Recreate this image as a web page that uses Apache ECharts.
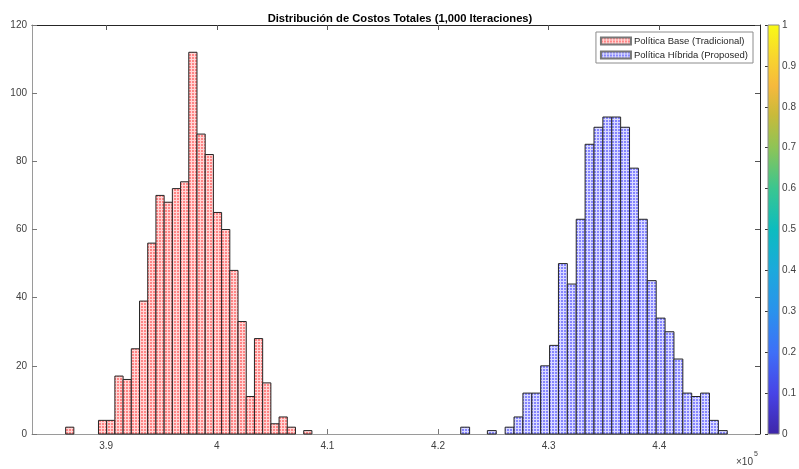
<!DOCTYPE html>
<html><head><meta charset="utf-8">
<script src="https://cdn.jsdelivr.net/npm/echarts@6/dist/echarts.min.js"></script>
<style>html,body{margin:0;padding:0;background:#fff}#c{width:799px;height:469px}</style>
</head><body><div id="c"></div>
<script>
// ---- data ----
const chartTitle = 'Distribución de Costos Totales (1,000 Iteraciones)';
const seriesNames = ['Política Base (Tradicional)', 'Política Híbrida (Proposed)'];
const redBinStart = 386340;
const redBinWidth = 742;
const redCounts = [2,0,0,0,4,4,17,16,25,39,56,70,68,72,74,112,88,82,65,60,48,33,11,28,15,3,5,2,0,1];
const blueBinStart = 422050;
const blueBinWidth = 803;
const blueCounts = [2,0,0,1,0,2,5,12,12,20,26,50,44,63,85,90,93,93,90,78,63,45,34,30,22,12,11,12,4,1];
const xTickValues = [390000, 400000, 410000, 420000, 430000, 440000];
const xRange = [383300, 449100];
const yRange = [0, 120];
const yInterval = 20;
const colorbarRange = [0, 1];
const colorbarInterval = 0.1;
// parula colormap (style)
const parulaStops = [
  [0.00,'#3e26a8'],[0.10,'#4743e6'],[0.20,'#3e6ff8'],[0.30,'#2a92ec'],[0.40,'#1ca9dc'],
  [0.50,'#0cbcbf'],[0.60,'#3ac690'],[0.70,'#8ec456'],[0.78,'#c9ba3a'],[0.85,'#f6b93c'],
  [0.92,'#f8d52e'],[1.00,'#f9fb15']
];

function makePattern(bg, fg){
  const cv = document.createElement('canvas');
  cv.width = 3; cv.height = 3;
  const g = cv.getContext('2d');
  g.fillStyle = bg; g.fillRect(0,0,3,3);
  g.fillStyle = fg; g.fillRect(0,0,2,2);
  return {image: cv, repeat: 'repeat'};
}
const redFill = makePattern('#ffd6d6', '#ff8585');
const blueFill = makePattern('#dadaff', '#8585ff');

function binsOf(start, width, counts){
  return counts.map((c, i) => [start + i*width, start + (i+1)*width, c]).filter(d => d[2] > 0);
}

function renderBar(params, api){
  const x0 = api.value(0), x1 = api.value(1), c = api.value(2);
  const p0 = api.coord([x0, 0]);
  const p1 = api.coord([x1, c]);
  const fill = params.seriesIndex === 0 ? redFill : blueFill;
  return {
    type: 'rect',
    shape: {x: p0[0], y: p1[1], width: p1[0]-p0[0], height: p0[1]-p1[1]},
    style: {fill: fill, stroke: '#262626', lineWidth: 1}
  };
}

function renderColorbar(params, api){
  const pTop = api.coord([0, api.value(1)]);
  const pBot = api.coord([1, api.value(0)]);
  return {
    type: 'rect',
    shape: {x: pTop[0], y: pTop[1], width: pBot[0]-pTop[0], height: pBot[1]-pTop[1]},
    style: {
      fill: new echarts.graphic.LinearGradient(0, 1, 0, 0,
        parulaStops.map(s => ({offset: s[0], color: s[1]}))),
      stroke: '#8a8a8a', lineWidth: 1
    }
  };
}

const FONT = 'Liberation Sans, Arial, Helvetica, sans-serif';
const chart = echarts.init(document.getElementById('c'), null, {renderer: 'canvas'});
chart.setOption({
  animation: false,
  backgroundColor: '#fff',
  title: {
    text: chartTitle, left: 395, top: 8, textAlign: 'center',
    textStyle: {fontFamily: FONT, fontSize: 11.2, fontWeight: 'bold', color: '#000'}
  },
  legend: {
    data: seriesNames, orient: 'vertical', right: 46, top: 32,
    icon: 'rect', itemWidth: 30, itemHeight: 7, itemGap: 4,
    padding: [4, 5, 3, 4],
    backgroundColor: '#fff', borderColor: '#8c8c8c', borderWidth: 1,
    textStyle: {fontFamily: FONT, fontSize: 9.5, color: '#262626', padding: [0,0,0,-2]}
  },
  grid: [
    {left: 32, top: 25, right: 39, bottom: 35, containLabel: false},
    {left: 768, top: 25, width: 16, bottom: 35, containLabel: false}
  ],
  xAxis: [
    {type: 'value', gridIndex: 0, position: 'bottom', min: xRange[0], max: xRange[1],
      axisLine: {onZero: false, lineStyle: {color: '#9a9a9a', width: 1}},
      axisTick: {inside: true, length: 5, customValues: xTickValues, lineStyle: {color: '#777'}},
      axisLabel: {customValues: xTickValues, margin: 7, fontFamily: FONT, fontSize: 10, color: '#404040',
        formatter: v => String(+(v/1e5).toFixed(2))},
      splitLine: {show: false}},
    {type: 'value', gridIndex: 0, position: 'top', min: xRange[0], max: xRange[1],
      axisLine: {onZero: false, lineStyle: {color: '#262626', width: 1}},
      axisTick: {inside: true, length: 5, customValues: xTickValues, lineStyle: {color: '#555'}},
      axisLabel: {show: false}, splitLine: {show: false}},
    {type: 'value', gridIndex: 1, min: 0, max: 1, show: false}
  ],
  yAxis: [
    {type: 'value', gridIndex: 0, position: 'left', min: yRange[0], max: yRange[1], interval: yInterval,
      axisLine: {show: true, onZero: false, lineStyle: {color: '#9a9a9a', width: 1}},
      axisTick: {show: true, inside: true, length: 5, lineStyle: {color: '#777'}},
      axisLabel: {margin: 5, fontFamily: FONT, fontSize: 10, color: '#404040'},
      splitLine: {show: false}},
    {type: 'value', gridIndex: 0, position: 'right', min: yRange[0], max: yRange[1], interval: yInterval,
      axisLine: {show: true, onZero: false, lineStyle: {color: '#262626', width: 1}},
      axisTick: {show: true, inside: true, length: 5, lineStyle: {color: '#555'}},
      axisLabel: {show: false}, splitLine: {show: false}},
    {type: 'value', gridIndex: 1, position: 'right', min: colorbarRange[0], max: colorbarRange[1], interval: colorbarInterval,
      axisLine: {show: false},
      axisTick: {show: true, inside: true, length: 3, lineStyle: {color: '#333'}},
      axisLabel: {margin: 3, fontFamily: FONT, fontSize: 10, color: '#404040'},
      splitLine: {show: false}}
  ],
  series: [
    {name: seriesNames[0], type: 'custom', xAxisIndex: 0, yAxisIndex: 0,
      renderItem: renderBar, encode: {x: [0, 1], y: 2},
      itemStyle: {color: redFill, borderColor: '#777', borderWidth: 0.5},
      data: binsOf(redBinStart, redBinWidth, redCounts), z: 2},
    {name: seriesNames[1], type: 'custom', xAxisIndex: 0, yAxisIndex: 0,
      renderItem: renderBar, encode: {x: [0, 1], y: 2},
      itemStyle: {color: blueFill, borderColor: '#777', borderWidth: 0.5},
      data: binsOf(blueBinStart, blueBinWidth, blueCounts), z: 2},
    {name: 'colorbar', type: 'custom', xAxisIndex: 2, yAxisIndex: 2,
      renderItem: renderColorbar, encode: {y: [0, 1]},
      data: [colorbarRange], silent: true}
  ],
  graphic: [
    {type: 'text', left: 736, top: 457, style: {text: '×10', fontFamily: FONT, fontSize: 10, fill: '#404040'}},
    {type: 'text', left: 754, top: 451, style: {text: '5', fontFamily: FONT, fontSize: 7, fill: '#404040'}}
  ]
});
</script></body></html>
